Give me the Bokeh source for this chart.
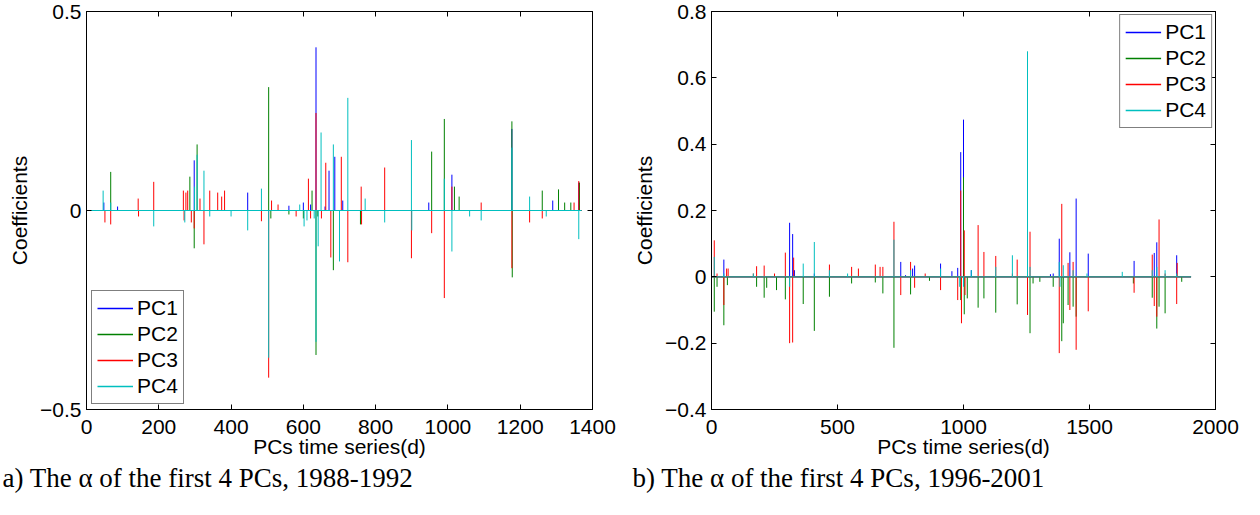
from bokeh.plotting import figure
from bokeh.models import FixedTicker, LinearAxis, Legend, Title
from bokeh.layouts import row
from bokeh.embed import file_html
from bokeh.resources import INLINE

# ---------------- data: panel a (1988-1992) ----------------
a_end_day = 1370
a_pc1_days = [48, 86, 298, 446, 560, 600, 620, 635, 660, 671, 687, 709, 947, 1011, 1177, 1290, 1362]
a_pc1_vals = [0.02, 0.01, 0.126, 0.045, 0.012, 0.02, 0.015, 0.41, 0.01, 0.10, 0.135, 0.025, 0.02, 0.09, 0.205, 0.025, 0.07]

a_pc2_days = [67, 286, 298, 306, 504, 510, 560, 600, 624, 635, 640, 683, 758, 955, 990, 1018, 1031, 1177, 1178, 1261, 1306, 1323, 1340, 1364]
a_pc2_vals = [0.097, 0.085, -0.095, 0.166, 0.31, -0.02, -0.01, -0.02, 0.05, -0.363, -0.015, -0.15, -0.035, 0.148, 0.23, 0.06, 0.035, 0.224, -0.168, 0.05, 0.053, 0.02, 0.02, 0.07]

a_pc3_days = [51, 67, 143, 144, 186, 268, 270, 275, 280, 290, 298, 314, 325, 341, 363, 374, 382, 484, 504, 512, 530, 580, 614, 620, 635, 650, 662, 676, 705, 723, 760, 761, 825, 899, 955, 990, 1011, 1092, 1177, 1226, 1261, 1349, 1362]
a_pc3_vals = [-0.03, -0.035, 0.03, -0.015, 0.072, 0.05, -0.025, 0.045, 0.05, -0.03, -0.045, 0.03, -0.085, 0.05, 0.045, 0.035, 0.05, -0.027, -0.42, 0.025, 0.015, -0.015, 0.08, -0.02, 0.245, -0.02, 0.12, -0.118, 0.135, -0.13, 0.06, -0.035, 0.108, -0.12, -0.057, -0.22, 0.06, 0.02, -0.145, -0.03, -0.02, 0.02, 0.074]

a_pc4_days = [46, 67, 186, 272, 299, 306, 325, 341, 400, 446, 484, 504, 590, 602, 610, 630, 635, 641, 649, 683, 700, 723, 771, 825, 899, 900, 990, 1011, 1060, 1092, 1177, 1226, 1272, 1362]
a_pc4_vals = [0.05, 0.02, -0.04, -0.03, 0.06, 0.14, 0.10, -0.015, -0.015, -0.05, 0.055, -0.37, 0.015, -0.04, -0.025, -0.02, -0.33, -0.09, 0.196, 0.166, -0.128, 0.283, 0.03, -0.03, 0.177, -0.05, 0.08, -0.103, -0.015, -0.025, 0.158, 0.035, -0.015, -0.072]

a_xticks = [0, 200, 400, 600, 800, 1000, 1200, 1400]
a_yticks = [-0.5, 0, 0.5]
a_ylabels = ["\u22120.5", "0", "0.5"]

# ---------------- data: panel b (1996-2001) ----------------
b_end_day = 1903
b_pc1_days = [49, 310, 322, 329, 408, 751, 770, 798, 806, 909, 954, 977, 989, 1000, 1031, 1345, 1356, 1380, 1422, 1447, 1495, 1677, 1757, 1767, 1846]
b_pc1_vals = [0.052, 0.163, 0.129, 0.02, 0.01, 0.045, 0.005, 0.025, 0.034, 0.04, 0.017, 0.027, 0.376, 0.474, 0.02, 0.008, 0.01, 0.115, 0.074, 0.236, 0.07, 0.048, 0.072, 0.104, 0.065]

b_pc2_days = [11, 22, 49, 63, 179, 209, 219, 258, 293, 364, 408, 468, 556, 650, 680, 724, 790, 865, 989, 1000, 1003, 1015, 1058, 1081, 1128, 1213, 1254, 1264, 1276, 1303, 1356, 1390, 1396, 1415, 1435, 1447, 1674, 1749, 1767, 1776, 1800, 1866]
b_pc2_vals = [-0.105, -0.03, -0.146, -0.025, -0.03, -0.063, -0.033, -0.04, -0.068, -0.082, -0.163, -0.06, -0.02, -0.017, -0.05, -0.214, -0.053, -0.012, -0.07, 0.30, -0.113, -0.065, -0.093, -0.065, -0.108, -0.083, 0.107, -0.17, -0.02, -0.015, -0.03, -0.194, -0.14, -0.085, -0.09, -0.12, -0.02, -0.063, -0.156, -0.09, -0.11, -0.015]

b_pc3_days = [11, 22, 49, 60, 66, 166, 179, 209, 250, 293, 310, 322, 326, 468, 556, 583, 650, 669, 680, 724, 751, 790, 806, 848, 909, 977, 989, 992, 1003, 1006, 1058, 1081, 1128, 1194, 1213, 1254, 1264, 1380, 1390, 1415, 1422, 1435, 1447, 1495, 1677, 1749, 1757, 1767, 1776, 1800, 1846, 1848]
b_pc3_vals = [0.11, 0.01, -0.085, 0.025, 0.025, 0.01, 0.032, 0.034, 0.01, 0.073, -0.2, -0.198, 0.058, 0.037, 0.03, 0.025, 0.037, 0.03, 0.03, 0.166, -0.055, 0.045, -0.033, 0.01, -0.04, -0.07, 0.26, -0.14, 0.14, -0.055, 0.156, 0.075, 0.063, 0.01, 0.052, -0.115, 0.136, -0.23, 0.22, 0.042, -0.1, 0.045, -0.22, -0.104, -0.048, 0.067, -0.088, -0.12, 0.173, 0.01, -0.082, 0.042]

b_pc4_days = [11, 49, 166, 310, 364, 408, 468, 540, 724, 790, 909, 985, 1000, 1031, 1128, 1194, 1254, 1264, 1380, 1383, 1396, 1435, 1490, 1630, 1749, 1767, 1800, 1846]
b_pc4_vals = [0.06, 0.01, 0.01, -0.03, 0.04, 0.105, 0.02, 0.01, 0.112, 0.02, 0.025, -0.03, -0.03, 0.02, 0.03, 0.065, 0.68, 0.03, 0.045, -0.03, 0.035, 0.02, 0.01, 0.015, 0.02, 0.03, 0.02, 0.01]

b_xticks = [0, 500, 1000, 1500, 2000]
b_yticks = [-0.4, -0.2, 0, 0.2, 0.4, 0.6, 0.8]
b_ylabels = ["\u22120.4", "\u22120.2", "0", "0.2", "0.4", "0.6", "0.8"]

series_names = ["PC1", "PC2", "PC3", "PC4"]
series_colors = ["#0000ff", "#008000", "#ff0000", "#00bfbf"]

x_label = "PCs time series(d)"
y_label = "Coefficients"
caption_a = "a) The \u03b1 of the first 4 PCs, 1988-1992"
caption_b = "b) The \u03b1 of the first 4 PCs, 1996-2001"

SANS = "Liberation Sans"
SERIF = "Liberation Serif"
NAN = float("nan")


def make_panel(series, end_day, xticks, yticks, ylabels, xr, yr, caption,
               border_left, frame_w, border_right, legend_loc, legend_margin, cap_offset):
    p = figure(width=border_left + frame_w + border_right, height=505,
               frame_width=frame_w, frame_height=398,
               x_range=xr, y_range=yr, output_backend="svg",
               toolbar_location=None, min_border_left=border_left,
               min_border_right=border_right, min_border_top=11, min_border_bottom=96)
    p.xgrid.visible = False
    p.ygrid.visible = False
    p.outline_line_color = "black"
    p.outline_line_width = 1
    p.background_fill_color = "white"
    p.border_fill_color = "white"

    items = []
    for (days, vals), name, color in zip(series, series_names, series_colors):
        p.line([1, end_day], [0, 0], line_color=color, line_width=1)
        p.segment(x0=days, y0=0, x1=days, y1=vals, line_color=color, line_width=1)
        key = p.line([days[0], days[0]], [NAN, NAN], line_color=color, line_width=1.5)
        items.append((name, [key]))

    for ax in (p.xaxis[0], p.yaxis[0]):
        ax.major_tick_in = 5
        ax.major_tick_out = 0
        ax.minor_tick_line_color = None
        ax.axis_line_color = "black"
        ax.major_tick_line_color = "black"
        ax.major_label_text_font = SANS
        ax.major_label_text_font_size = "21px"
        ax.major_label_text_color = "black"
        ax.axis_label_text_font = SANS
        ax.axis_label_text_font_size = "21px"
        ax.axis_label_text_font_style = "normal"
        ax.axis_label_text_color = "black"
    p.xaxis[0].ticker = FixedTicker(ticks=xticks)
    p.yaxis[0].ticker = FixedTicker(ticks=yticks)
    p.yaxis[0].major_label_overrides = {t: l for t, l in zip(yticks, ylabels)}
    p.xaxis[0].axis_label = x_label
    p.yaxis[0].axis_label = y_label
    p.xaxis[0].major_label_standoff = 10
    p.xaxis[0].axis_label_standoff = -2
    p.yaxis[0].major_label_standoff = 5
    p.yaxis[0].axis_label_standoff = 6

    for side, ticks in (("above", xticks), ("right", yticks)):
        ax = LinearAxis(ticker=FixedTicker(ticks=ticks), major_tick_in=5, major_tick_out=0,
                        minor_tick_line_color=None, major_label_text_font_size="1px",
                        major_label_text_color=None, major_label_text_alpha=0,
                        major_label_standoff=0, axis_line_color="black",
                        major_tick_line_color="black")
        p.add_layout(ax, side)

    leg = Legend(items=items, location=legend_loc, margin=legend_margin,
                 label_text_font=SANS, label_text_font_size="21px",
                 label_text_color="black",
                 border_line_color="black", border_line_width=1,
                 background_fill_color="white", background_fill_alpha=1.0,
                 glyph_width=36, glyph_height=24, label_height=24,
                 label_standoff=4, padding=5, spacing=2)
    p.add_layout(leg)

    t = Title(text=caption, align="left", offset=cap_offset,
              text_font=SERIF, text_font_size="27px", text_font_style="normal",
              text_color="black", standoff=0)
    p.add_layout(t, "below")
    return p


pa = make_panel([(a_pc1_days, a_pc1_vals), (a_pc2_days, a_pc2_vals),
                 (a_pc3_days, a_pc3_vals), (a_pc4_days, a_pc4_vals)],
                a_end_day, a_xticks, a_yticks, a_ylabels, (0, 1400), (-0.5, 0.5),
                caption_a, 86, 506, 37, "bottom_left", 5, -84)
pb = make_panel([(b_pc1_days, b_pc1_vals), (b_pc2_days, b_pc2_vals),
                 (b_pc3_days, b_pc3_vals), (b_pc4_days, b_pc4_vals)],
                b_end_day, b_xticks, b_yticks, b_ylabels, (0, 2000), (-0.4, 0.8),
                caption_b, 82, 504, 36, "top_right", 3, -79)

layout = row(pa, pb)
open("out.html", "w").write(file_html(layout, INLINE))
